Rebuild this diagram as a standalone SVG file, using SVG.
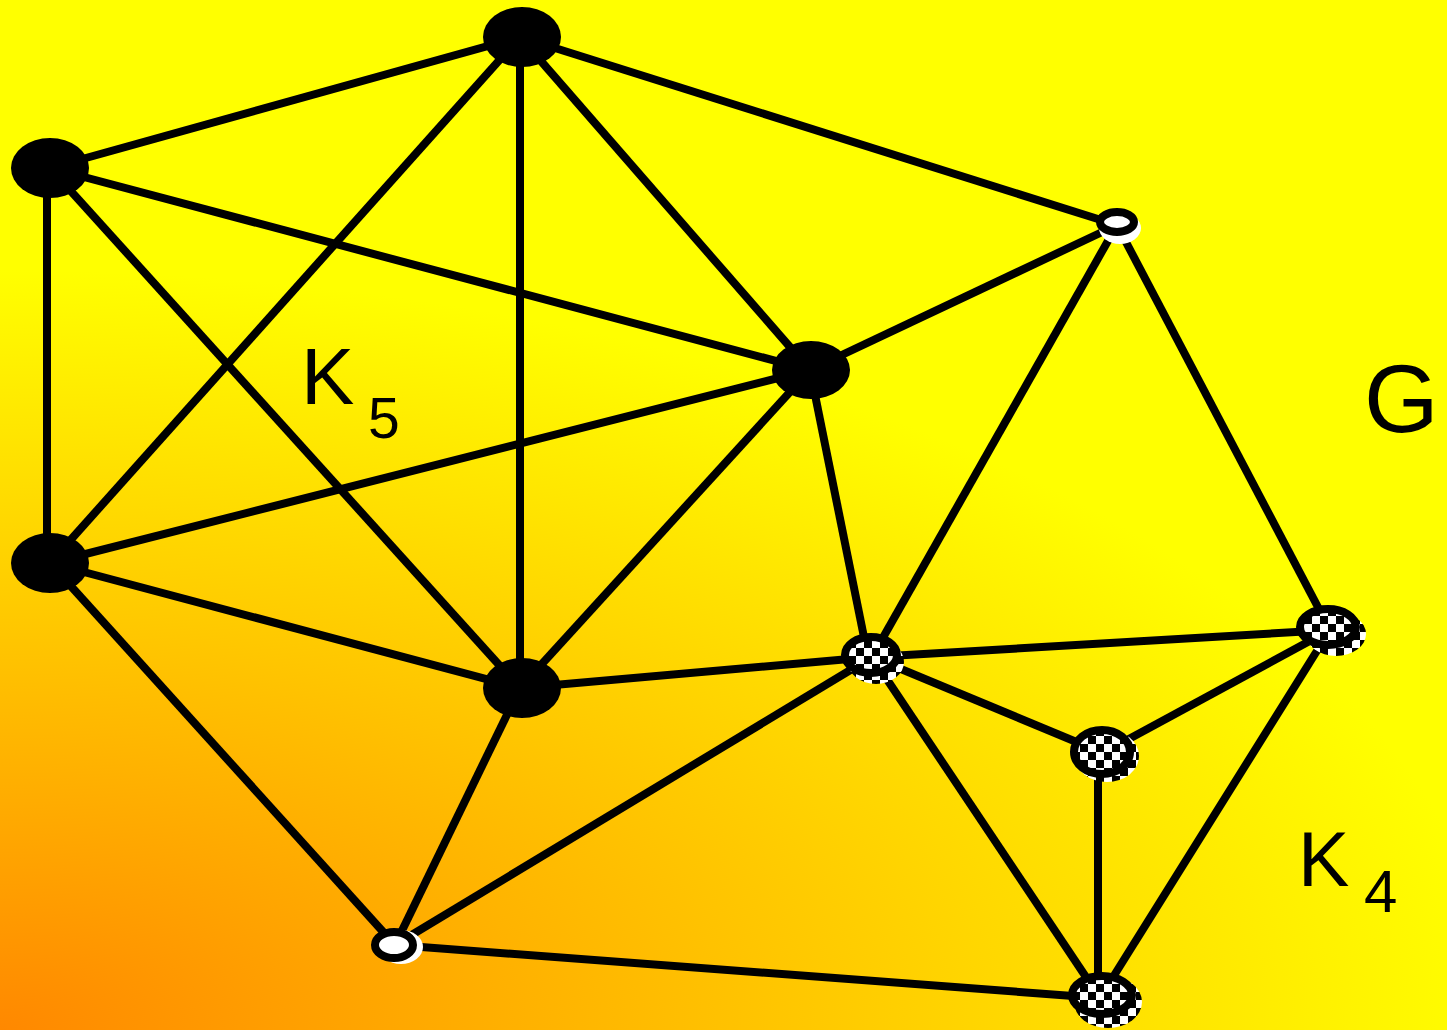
<svg xmlns="http://www.w3.org/2000/svg" width="1447" height="1030" viewBox="0 0 1447 1030">
<defs>
<radialGradient id="bg" gradientUnits="userSpaceOnUse" cx="0" cy="0" r="1" gradientTransform="translate(0 1030) scale(1500 760)">
<stop offset="0" stop-color="#FF8800"/>
<stop offset="1" stop-color="#FFFF00"/>
</radialGradient>
<pattern id="chk" patternUnits="userSpaceOnUse" width="16" height="16">
<rect width="16" height="16" fill="#fff"/>
<rect width="8" height="8" fill="#000"/>
<rect x="8" y="8" width="8" height="8" fill="#000"/>
</pattern>
</defs>
<style>
.e{stroke:#000;stroke-width:8;fill:none}
.blk{fill:#000}
.wsh{fill:#fff}
.wn{fill:#fff;stroke:#000;stroke-width:8}
.csh{fill:url(#chk)}
.cn{fill:url(#chk);stroke:#000;stroke-width:8}
.lbl{font-family:"Liberation Sans",Arial,sans-serif;fill:#000}
</style>
<rect width="1447" height="1030" fill="url(#bg)"/>
<g id="edges">
<line class="e" x1="520" y1="37" x2="50" y2="168"/>
<line class="e" x1="520" y1="37" x2="50" y2="563"/>
<line class="e" x1="520" y1="37" x2="520" y2="688"/>
<line class="e" x1="520" y1="37" x2="810" y2="370"/>
<line class="e" x1="520" y1="37" x2="1117" y2="225"/>
<line class="e" x1="47" y1="168" x2="47" y2="563"/>
<line class="e" x1="50" y1="168" x2="810" y2="370"/>
<line class="e" x1="50" y1="168" x2="520" y2="688"/>
<line class="e" x1="50" y1="563" x2="810" y2="370"/>
<line class="e" x1="50" y1="563" x2="520" y2="688"/>
<line class="e" x1="50" y1="563" x2="395" y2="945"/>
<line class="e" x1="810" y1="370" x2="520" y2="688"/>
<line class="e" x1="810" y1="370" x2="1117" y2="225"/>
<line class="e" x1="810" y1="370" x2="868" y2="657"/>
<line class="e" x1="520" y1="688" x2="872" y2="657"/>
<line class="e" x1="520" y1="688" x2="395" y2="945"/>
<line class="e" x1="1117" y1="225" x2="872" y2="657"/>
<line class="e" x1="1117" y1="225" x2="1330" y2="630"/>
<line class="e" x1="872" y1="657" x2="395" y2="945"/>
<line class="e" x1="872" y1="657" x2="1330" y2="630"/>
<line class="e" x1="872" y1="657" x2="1103" y2="753"/>
<line class="e" x1="872" y1="657" x2="1100" y2="998"/>
<line class="e" x1="1330" y1="630" x2="1103" y2="753"/>
<line class="e" x1="1330" y1="630" x2="1100" y2="998"/>
<line class="e" x1="1098" y1="753" x2="1098" y2="998"/>
<line class="e" x1="395" y1="945" x2="1100" y2="998"/>
</g>
<g id="n1"><ellipse class="blk" cx="522" cy="37" rx="39" ry="30"/></g>
<g id="n2"><ellipse class="blk" cx="50" cy="168" rx="39" ry="30"/></g>
<g id="n3"><ellipse class="blk" cx="50" cy="563" rx="39" ry="30"/></g>
<g id="n4"><ellipse class="blk" cx="811" cy="370" rx="39" ry="29"/></g>
<g id="n5"><ellipse class="blk" cx="522" cy="688" rx="39" ry="30"/></g>
<g id="w1"><ellipse class="wsh" cx="1120" cy="228" rx="21" ry="16"/><ellipse class="wn" cx="1117" cy="222" rx="17" ry="10"/></g>
<g id="w2"><ellipse class="wsh" cx="401" cy="947" rx="22" ry="17"/><ellipse class="wn" cx="394" cy="945" rx="19" ry="13"/></g>
<g id="c1"><ellipse class="csh" cx="876" cy="662" rx="28" ry="22"/><ellipse class="cn" cx="871" cy="655" rx="26" ry="18"/></g>
<g id="c2"><ellipse class="csh" cx="1336" cy="634" rx="30" ry="22"/><ellipse class="cn" cx="1328" cy="627" rx="28" ry="18"/></g>
<g id="c3"><ellipse class="csh" cx="1107" cy="756" rx="32" ry="26"/><ellipse class="cn" cx="1102" cy="752" rx="28" ry="22"/></g>
<g id="c4"><ellipse class="csh" cx="1108" cy="1002" rx="34" ry="26"/><ellipse class="cn" cx="1102" cy="995" rx="30" ry="19"/></g>
<g id="labels">
<text class="lbl" x="301" y="404" font-size="80">K</text>
<text class="lbl" x="368" y="438" font-size="57">5</text>
<text class="lbl" x="1364" y="432" font-size="96">G</text>
<text class="lbl" x="1298" y="886" font-size="77">K</text>
<text class="lbl" x="1364" y="912" font-size="60">4</text>
</g>
</svg>
